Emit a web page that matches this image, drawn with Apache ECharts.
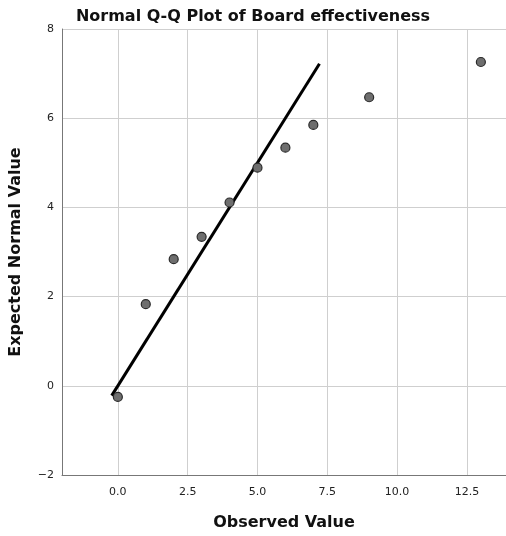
<!DOCTYPE html>
<html>
<head>
<meta charset="utf-8">
<script src="https://cdn.jsdelivr.net/npm/echarts@6/dist/echarts.min.js"></script>
<style>
  html, body { margin: 0; padding: 0; background: #fff; }
  #chart { width: 506px; height: 536px; }
</style>
</head>
<body>
<div id="chart"></div>
<script>
// observed values and their expected normal quantiles
const observed = [0, 1, 2, 3, 4, 5, 6, 7, 9, 13]
const expected = [-0.25, 1.83, 2.84, 3.34, 4.11, 4.89, 5.34, 5.85, 6.47, 7.26]
// reference line endpoints
const lineX = [-0.22, 7.22]
const lineY = [-0.22, 7.22]
const xTicks = [0, 2.5, 5, 7.5, 10, 12.5]

const chart = echarts.init(document.getElementById('chart'))

const font = '"DejaVu Sans", "Noto Sans", sans-serif'

chart.setOption({
  backgroundColor: '#fff',
  animation: false,
  title: {
    text: 'Normal Q-Q Plot of Board effectiveness',
    left: 'center',
    top: 4,
    textStyle: { fontFamily: font, fontSize: 16, fontWeight: 'bold', color: '#111' }
  },
  grid: { left: 60, right: 0, top: 29, bottom: 60 },
  xAxis: {
    type: 'value',
    min: -2,
    max: 13.9,
    name: 'Observed Value',
    nameLocation: 'middle',
    nameGap: 40,
    nameTextStyle: { fontFamily: font, fontSize: 16, fontWeight: 'bold', color: '#111' },
    axisLine: { show: true, onZero: false, lineStyle: { color: '#777', width: 1 } },
    axisTick: { show: false, customValues: xTicks },
    axisLabel: {
      customValues: xTicks,
      formatter: v => v.toFixed(1),
      fontFamily: font, fontSize: 11, color: '#222', margin: 12
    },
    splitLine: { show: true, lineStyle: { color: '#cfcfcf', width: 1 } }
  },
  yAxis: {
    type: 'value',
    min: -2,
    max: 8,
    interval: 2,
    name: 'Expected Normal Value',
    nameLocation: 'middle',
    nameGap: 38,
    nameTextStyle: { fontFamily: font, fontSize: 16, fontWeight: 'bold', color: '#111' },
    axisLine: { show: true, onZero: false, lineStyle: { color: '#777', width: 1 } },
    axisTick: { show: false },
    axisLabel: {
      formatter: v => String(v).replace('-', '\u2212'),
      fontFamily: font, fontSize: 11, color: '#222', margin: 8
    },
    splitLine: { show: true, lineStyle: { color: '#cfcfcf', width: 1 } }
  },
  series: [
    {
      type: 'line',
      data: lineX.map((x, i) => [x, lineY[i]]),
      symbol: 'none',
      lineStyle: { color: '#000', width: 3 },
      z: 2
    },
    {
      type: 'scatter',
      data: observed.map((x, i) => [x, expected[i]]),
      symbolSize: 9,
      itemStyle: { color: '#6e6e6e', borderColor: '#2a2a2a', borderWidth: 1.2, opacity: 1 },
      z: 3
    }
  ]
})
</script>
</body>
</html>
